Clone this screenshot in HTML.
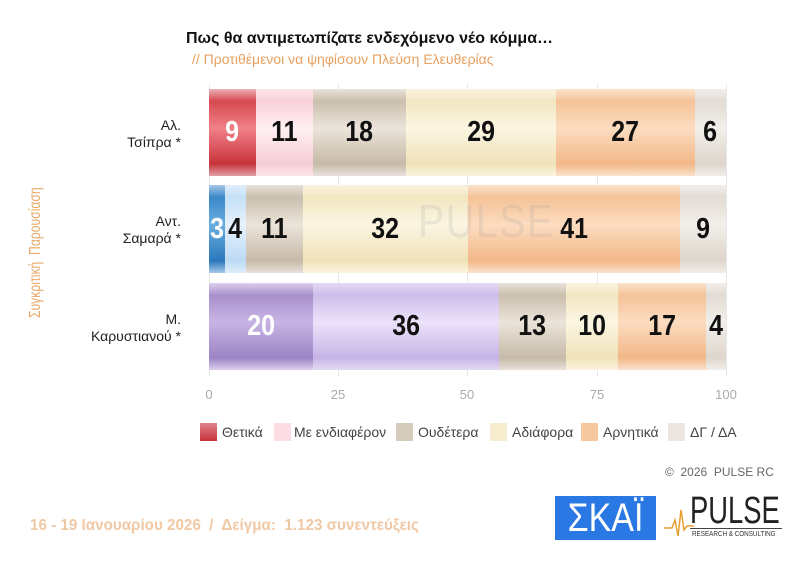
<!DOCTYPE html>
<html><head><meta charset="utf-8">
<style>
body{margin:0;width:803px;height:571px;background:#fff;position:relative;overflow:hidden;font-family:"Liberation Sans","DejaVu Sans",sans-serif}
.a{position:absolute}
.seg{position:absolute;display:flex;align-items:center;justify-content:center;font-weight:bold;font-size:29px;color:#111}
.seg span{display:inline-block;transform:scaleX(0.86)}
.grid{position:absolute;top:84px;height:292px;width:1px;background:#e6e6e6}
.tick{position:absolute;top:387px;font-size:13px;color:#aaa;transform:translateX(-50%)}
.lab{position:absolute;right:622px;text-align:right;font-size:14px;color:#222;line-height:17px}
.lg{position:absolute;top:423px;width:17px;height:18px}
.lt{position:absolute;top:424px;font-size:14px;color:#444}
</style></head><body>
<div class="a" style="left:186px;top:30px;font-size:16px;font-weight:bold;color:#111">Πως θα αντιμετωπίζατε ενδεχόμενο νέο κόμμα…</div>
<div class="a" style="left:192px;top:51px;font-size:14px;color:#e8a060">// Προτιθέμενοι να ψηφίσουν Πλεύση Ελευθερίας</div>
<div class="a" style="left:27px;top:318px;font-size:16px;color:#e8a868;transform:rotate(-90deg) scaleX(0.76);transform-origin:0 0;white-space:nowrap">Συγκριτική&nbsp; Παρουσίαση</div>

<div class="grid" style="left:209px"></div><div class="grid" style="left:338px"></div><div class="grid" style="left:467px"></div><div class="grid" style="left:597px"></div><div class="grid" style="left:726px"></div>
<div class="tick" style="left:209px">0</div><div class="tick" style="left:338px">25</div><div class="tick" style="left:467px">50</div><div class="tick" style="left:597px">75</div><div class="tick" style="left:726px">100</div>

<div class="lab" style="top:117px">Αλ.<br>Τσίπρα *</div>
<div class="lab" style="top:213px">Αντ.<br>Σαμαρά *</div>
<div class="lab" style="top:311px">Μ.<br>Καρυστιανού *</div>

<!-- row 1 -->
<div class="seg" style="left:209px;width:47px;top:89px;height:87px;background:linear-gradient(#eab0b4 0,#d64a50 14%,#f08088 45%,#c8343c 86%,#e0a0a4 100%);color:#fff"><span>9</span></div>
<div class="seg" style="left:256px;width:57px;top:89px;height:87px;background:linear-gradient(#fbe6ea 0,#f9d0d8 14%,#fff0f3 45%,#f6cdd5 86%,#fbe6ea 100%)"><span>11</span></div>
<div class="seg" style="left:313px;width:93px;top:89px;height:87px;background:linear-gradient(#e8e2da 0,#cbbfae 14%,#ebe4da 45%,#c7baa8 86%,#e8e2da 100%)"><span>18</span></div>
<div class="seg" style="left:406px;width:150px;top:89px;height:87px;background:linear-gradient(#faf3e0 0,#f3e7c2 14%,#fbf5e2 45%,#f0e2b8 86%,#faf3e0 100%)"><span>29</span></div>
<div class="seg" style="left:556px;width:139px;top:89px;height:87px;background:linear-gradient(#fbe2cc 0,#f5c398 14%,#fcdcc0 45%,#f2b888 86%,#fbe2cc 100%)"><span>27</span></div>
<div class="seg" style="left:695px;width:31px;top:89px;height:87px;background:linear-gradient(#f2eeea 0,#e2dcd4 14%,#f2eee9 45%,#ddd6cc 86%,#f2eeea 100%)"><span>6</span></div>

<!-- row 2 -->
<div class="seg" style="left:209px;width:16px;top:185px;height:88px;background:linear-gradient(#a8c8e8 0,#3a88c8 14%,#6aaee0 45%,#2a78bc 86%,#a8c8e8 100%);color:#fff"><span>3</span></div>
<div class="seg" style="left:225px;width:21px;top:185px;height:88px;background:linear-gradient(#e0eefa 0,#c4e0f6 14%,#e6f2fc 45%,#bcdaf4 86%,#e0eefa 100%)"><span>4</span></div>
<div class="seg" style="left:246px;width:57px;top:185px;height:88px;background:linear-gradient(#e8e2da 0,#cbbfae 14%,#ebe4da 45%,#c7baa8 86%,#e8e2da 100%)"><span>11</span></div>
<div class="seg" style="left:303px;width:165px;top:185px;height:88px;background:linear-gradient(#faf3e0 0,#f3e7c2 14%,#fbf5e2 45%,#f0e2b8 86%,#faf3e0 100%)"><span>32</span></div>
<div class="seg" style="left:468px;width:212px;top:185px;height:88px;background:linear-gradient(#fbe2cc 0,#f5c398 14%,#fcdcc0 45%,#f2b888 86%,#fbe2cc 100%)"><span>41</span></div>
<div class="seg" style="left:680px;width:46px;top:185px;height:88px;background:linear-gradient(#f2eeea 0,#e2dcd4 14%,#f2eee9 45%,#ddd6cc 86%,#f2eeea 100%)"><span>9</span></div>

<!-- row 3 -->
<div class="seg" style="left:209px;width:104px;top:283px;height:87px;background:linear-gradient(#ddd0ec 0,#a890cc 14%,#c8b4e4 45%,#9c84c4 86%,#ddd0ec 100%);color:#fff"><span>20</span></div>
<div class="seg" style="left:313px;width:186px;top:283px;height:87px;background:linear-gradient(#e4daf2 0,#cdbdea 14%,#ece2fa 45%,#c6b4e6 86%,#e4daf2 100%)"><span>36</span></div>
<div class="seg" style="left:499px;width:67px;top:283px;height:87px;background:linear-gradient(#e8e2da 0,#cbbfae 14%,#ebe4da 45%,#c7baa8 86%,#e8e2da 100%)"><span>13</span></div>
<div class="seg" style="left:566px;width:52px;top:283px;height:87px;background:linear-gradient(#faf3e0 0,#f3e7c2 14%,#fbf5e2 45%,#f0e2b8 86%,#faf3e0 100%)"><span>10</span></div>
<div class="seg" style="left:618px;width:88px;top:283px;height:87px;background:linear-gradient(#fbe2cc 0,#f5c398 14%,#fcdcc0 45%,#f2b888 86%,#fbe2cc 100%)"><span>17</span></div>
<div class="seg" style="left:706px;width:20px;top:283px;height:87px;background:linear-gradient(#f2eeea 0,#e2dcd4 14%,#f2eee9 45%,#ddd6cc 86%,#f2eeea 100%)"><span>4</span></div>

<div class="a" style="left:418px;top:194px;font-size:46px;color:rgba(150,150,150,0.16);letter-spacing:2px;transform:scaleX(0.85);transform-origin:0 0">PULSE</div>

<!-- legend -->
<div class="lg" style="left:200px;background:linear-gradient(#e08088,#c8343c)"></div><div class="lt" style="left:222px">Θετικά</div>
<div class="lg" style="left:274px;background:#fbdde3"></div><div class="lt" style="left:294px">Με ενδιαφέρον</div>
<div class="lg" style="left:396px;background:#d6ccbe"></div><div class="lt" style="left:418px">Ουδέτερα</div>
<div class="lg" style="left:490px;background:#f6ecce"></div><div class="lt" style="left:512px">Αδιάφορα</div>
<div class="lg" style="left:581px;background:#f5c8a0"></div><div class="lt" style="left:603px">Αρνητικά</div>
<div class="lg" style="left:668px;background:#ebe6e0"></div><div class="lt" style="left:690px">ΔΓ / ΔΑ</div>

<div class="a" style="left:665px;top:465px;font-size:12px;color:#666">©&nbsp; 2026&nbsp; PULSE RC</div>
<div class="a" style="left:30px;top:517px;font-size:16px;font-weight:bold;color:#f0c8a4;white-space:nowrap;transform:scaleX(0.95);transform-origin:0 0">16 - 19 Ιανουαρίου 2026&nbsp; /&nbsp; Δείγμα:&nbsp; 1.123 συνεντεύξεις</div>

<div class="a" style="left:555px;top:496px;width:101px;height:44px;background:#2a78e4;overflow:hidden"><div style="color:#fff;font-size:40px;line-height:44px;text-align:center;transform:scaleX(0.85)">ΣΚΑΪ</div></div>
<svg class="a" style="left:664px;top:500px" width="30" height="40"><polyline points="0,28 8,28 11,20 14,36 17,10 20,30 23,26 30,26" fill="none" stroke="#e8a030" stroke-width="1.5"/></svg>
<div class="a" style="left:690px;top:490px;font-size:38px;color:#222;white-space:nowrap;transform:scaleX(0.72);transform-origin:0 0">PULSE</div>
<div class="a" style="left:690px;top:528px;width:92px;height:1px;background:#444"></div>
<div class="a" style="left:692px;top:531px;font-size:7px;color:#333;white-space:nowrap;transform:scaleX(0.9);transform-origin:0 0">RESEARCH &amp; CONSULTING</div>
</body></html>
